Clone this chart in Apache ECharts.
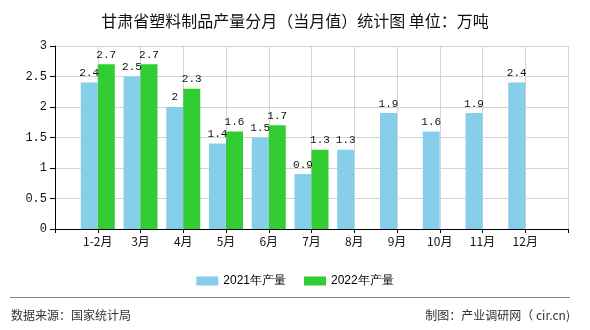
<!DOCTYPE html>
<html>
<head>
<meta charset="utf-8">
<script src="https://cdn.jsdelivr.net/npm/echarts@6/dist/echarts.min.js"></script>
<style>
html,body{margin:0;padding:0;background:#fff;}
#chart{width:590px;height:330px;}
</style>
</head>
<body>
<div id="chart"></div>
<script>
var categories = ['1-2月','3月','4月','5月','6月','7月','8月','9月','10月','11月','12月'];
var series2021 = [2.4, 2.5, 2, 1.4, 1.5, 0.9, 1.3, 1.9, 1.6, 1.9, 2.4];
var series2022 = [2.7, 2.7, 2.3, 1.6, 1.7, 1.3, null, null, null, null, null];
var seriesNames = ['2021年产量', '2022年产量'];
var titleText = '甘肃省塑料制品产量分月（当月值）统计图 单位：万吨';
var sourceText = '数据来源：国家统计局';
var makerText = '制图：产业调研网（ cir.cn)';

// pad with empty slots at both ends (the axis has a blank slot on each side)
var cats = [''].concat(categories, ['']);
var d2021 = [null].concat(series2021, [null]);
var d2022 = [null].concat(series2022, [null]);

var cjk = '"Noto Sans CJK SC", "Noto Sans", sans-serif';
var mono = '"Liberation Mono", "DejaVu Sans Mono", monospace';

var chart = echarts.init(document.getElementById('chart'), null, {renderer: 'canvas'});
var labelStyle = {
  show: true, position: 'top', distance: 4,
  fontFamily: mono, fontSize: 11, color: '#111',
  formatter: function (p) { return p.value == null ? '' : String(p.value); }
};
chart.setOption({
  animation: false,
  backgroundColor: '#fff',
  title: {
    text: titleText, left: 'center', top: 8,
    textStyle: {fontFamily: cjk, fontSize: 16, fontWeight: 'normal', color: '#111'}
  },
  legend: {
    data: seriesNames, left: 'center', top: 270,
    itemWidth: 22, itemHeight: 9, itemGap: 18,
    icon: 'rect',
    textStyle: {fontFamily: '"Liberation Sans", Arial, sans-serif', fontSize: 12, color: '#000'}
  },
  grid: {left: 55, right: 22, top: 46, bottom: 101},
  xAxis: {
    type: 'category', data: cats, boundaryGap: false,
    axisLine: {lineStyle: {color: '#000', width: 1}},
    axisTick: {show: true, length: 4, interval: 0, lineStyle: {color: '#000'}},
    axisLabel: {interval: 0, fontFamily: cjk, fontSize: 12, color: '#111', margin: 6},
    splitLine: {show: true, interval: 0, lineStyle: {color: '#d4d4d4', width: 1}}
  },
  yAxis: {
    type: 'value', min: 0, max: 3, interval: 0.5,
    axisLine: {show: true, lineStyle: {color: '#000', width: 1}},
    axisTick: {show: true, length: 5, lineStyle: {color: '#000'}},
    axisLabel: {fontFamily: mono, fontSize: 12, color: '#111', margin: 8},
    splitLine: {show: true, lineStyle: {color: '#d4d4d4', width: 1}}
  },
  series: [
    {name: seriesNames[0], type: 'bar', data: d2021, barWidth: 17, barGap: '0%',
     itemStyle: {color: '#87CEEB'}, label: labelStyle},
    {name: seriesNames[1], type: 'bar', data: d2022, barWidth: 17, barGap: '0%',
     itemStyle: {color: '#32CD32'}, label: labelStyle}
  ],
  graphic: [
    {type: 'line', shape: {x1: 10, y1: 297.5, x2: 570, y2: 297.5},
     style: {stroke: '#888', lineWidth: 1}},
    {type: 'text', left: 11, top: 309,
     style: {text: sourceText, fontFamily: cjk, fontSize: 12, fill: '#333'}},
    {type: 'text', right: 20, top: 309,
     style: {text: makerText, fontFamily: cjk, fontSize: 12, fill: '#333'}}
  ]
});
</script>
</body>
</html>
